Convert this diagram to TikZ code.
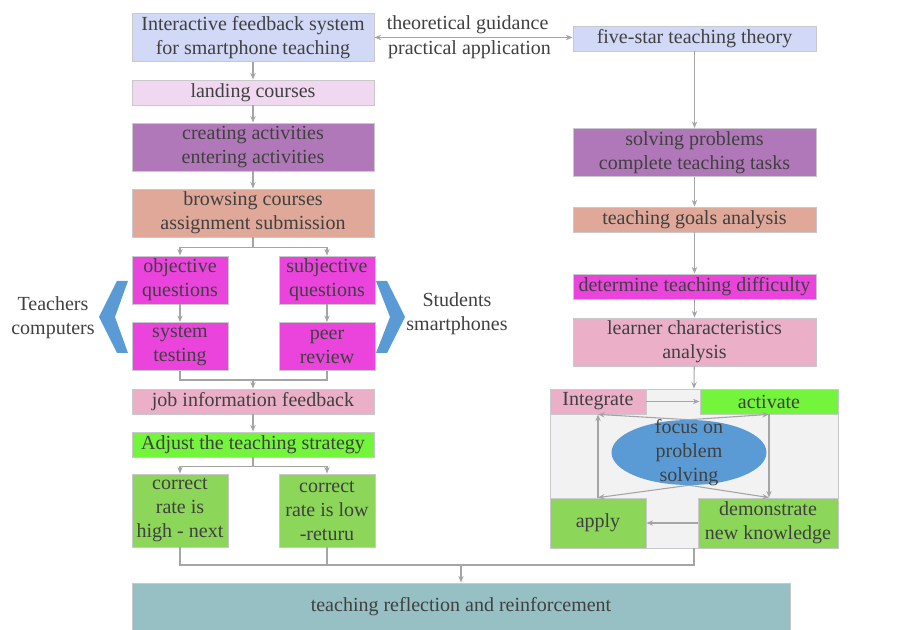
\documentclass[tikz,border=0pt]{standalone}
\usepackage{fontspec}
\setmainfont{Liberation Serif}
\usepackage{tikz}
\usetikzlibrary{arrows.meta}
\usetikzlibrary{shapes.geometric}

\definecolor{txtgray}{RGB}{64,64,64}
\definecolor{boxline}{RGB}{200,200,205}
\definecolor{linegray}{RGB}{165,165,165}
\definecolor{lavblue}{RGB}{209,217,247}
\definecolor{lightpink}{RGB}{240,216,240}
\definecolor{violet}{RGB}{176,120,184}
\definecolor{salmon}{RGB}{224,168,152}
\definecolor{magent}{RGB}{234,68,220}
\definecolor{rosepink}{RGB}{235,176,200}
\definecolor{brightgreen}{RGB}{115,245,60}
\definecolor{leafgreen}{RGB}{140,214,90}
\definecolor{teal}{RGB}{150,192,196}
\definecolor{chevblue}{RGB}{91,155,213}
\definecolor{panelgray}{RGB}{242,242,242}

\begin{document}
\begin{tikzpicture}[x=0.75pt,y=0.75pt,yscale=-1,
  box/.style={draw=boxline,line width=0.6pt,text=txtgray,align=center,inner sep=1pt,font=\fontsize{15}{18}\selectfont},
  wide/.style={box,minimum width=181.5pt},
  narrow/.style={box,minimum width=72pt},
  onerow/.style={minimum height=18.75pt},
  tworow/.style={minimum height=36pt},
  plain/.style={text=txtgray,align=center,inner sep=1pt,font=\fontsize{15}{18}\selectfont},
  link/.style={draw=linegray,line width=0.8pt},
  arr/.style={link,-{Stealth[length=5pt,width=4pt]}}]
%set picture to the size of the reference
\useasboundingbox (0,0) rectangle (901,630);

% left column
\node [wide,tworow,fill=lavblue] (sys) at (253,37.5) {Interactive feedback system\\for smartphone teaching};
\node [wide,onerow,fill=lightpink] (land) at (253,92.5) {landing courses};
\node [wide,tworow,fill=violet] (creat) at (253,147) {creating activities\\entering activities};
\node [wide,tworow,fill=salmon] (brows) at (253,213) {browsing courses\\assignment submission};
\node [narrow,tworow,fill=magent] (obj) at (180,280) {objective\\questions};
\node [narrow,tworow,fill=magent] (subj) at (327,280) {subjective\\questions};
\node [narrow,tworow,fill=magent] (systest) at (180,346.5) {system\\testing};
\node [narrow,tworow,fill=magent] (peer) at (327,346.5) {peer\\review};
\node [wide,onerow,fill=rosepink] (job) at (253,401.5) {job information feedback};
\node [wide,onerow,fill=brightgreen] (adjust) at (253,444.5) {Adjust the teaching strategy};
\node [narrow,minimum height=54.75pt,fill=leafgreen] (high) at (180,510.5) {correct\\rate is\\high - next};
\node [narrow,minimum height=54.75pt,fill=leafgreen] (low) at (327,510.5) {correct\\rate is low\\-returu};

\fill [chevblue] (117,281) -- (128,281) -- (115,317) -- (128,353) -- (117,353) -- (99,317) -- cycle;
\fill [chevblue] (376,281) -- (387,281) -- (405,317) -- (387,353) -- (376,353) -- (390,317) -- cycle;
\node [plain] (teach) at (53,317.5) {Teachers\\computers};
\node [plain] (stud) at (457,313.5) {Students\\smartphones};

% right column
\node [wide,onerow,minimum width=182.25pt,fill=lavblue] (star) at (694.5,38.5) {five-star teaching theory};
\node [wide,tworow,minimum width=182.25pt,fill=violet] (solve) at (694.5,152.5) {solving problems\\complete teaching tasks};
\node [wide,onerow,minimum width=182.25pt,fill=salmon] (goals) at (694.5,219.5) {teaching goals analysis};
\node [wide,onerow,minimum width=182.25pt,fill=magent] (diff) at (694.5,286.5) {determine teaching difficulty};
\node [wide,tworow,minimum width=182.25pt,fill=rosepink] (learner) at (694.5,342) {learner characteristics\\analysis};

\node [draw=boxline,fill=panelgray,minimum width=216pt,minimum height=119.25pt] (panel) at (694,468.5) {};
\node [narrow,onerow,fill=rosepink] (integ) at (598,401.5) {Integrate};
\node [box,onerow,minimum width=103.5pt,fill=brightgreen] (activ) at (769,401.5) {activate};
\node [narrow,minimum height=37.5pt,fill=leafgreen] (apply) at (598,523) {apply};
\node [box,minimum width=105pt,minimum height=37.5pt,fill=leafgreen] (demo) at (768,523) {demonstrate\\new knowledge};
\node [ellipse,fill=chevblue,minimum width=116.25pt,minimum height=48.75pt] (focus) at (689,452.5) {};
\node [plain] (focustxt) at (focus) {focus on\\problem\\solving};

\node [box,minimum width=493.5pt,minimum height=35.25pt,fill=teal] (refl) at (461,606.5) {teaching reflection and reinforcement};

% connectors
\draw [link,{Stealth[length=5pt,width=4pt]}-{Stealth[length=5pt,width=4pt]}] (sys.east) -- node[plain,above=1pt,pos=0.47] {theoretical guidance} node[plain,below=1pt,pos=0.48] {practical application} (sys.east -| star.west);
\draw [arr] (sys) -- (land);
\draw [arr] (land) -- (creat);
\draw [arr] (creat) -- (brows);
\draw [arr] (brows.south) -- ++(0,10) -| (obj.north);
\draw [arr] (brows.south) -- ++(0,10) -| (subj.north);
\draw [arr] (obj) -- (systest);
\draw [arr] (subj) -- (peer);
\coordinate (j1) at (253,380);
\draw [link] (systest.south) |- (j1) -| (peer.south);
\draw [arr] (j1) -- (job.north);
\draw [arr] (job) -- (adjust);
\draw [arr] (adjust.south) -- ++(0,9) -| (high.north);
\draw [arr] (adjust.south) -- ++(0,9) -| (low.north);
\coordinate (r1) at (461,565);
\draw [link] (high.south) |- (r1);
\draw [link] (low.south) |- (r1);
\draw [link] (panel.south) |- (r1);
\draw [arr] (r1) -- (refl.north);

\draw [arr] (star) -- (solve);
\draw [arr] (solve) -- (goals);
\draw [arr] (goals) -- (diff);
\draw [arr] (diff) -- (learner);
\draw [arr] (learner) -- (panel.north);
\draw [arr] (integ) -- (activ);
\draw [arr] (demo) -- (apply);
\draw [arr] (apply.north) -- (integ.south);
\draw [arr] (activ.south) -- (activ.south |- demo.north);
\draw [arr] (focus.north) -- (integ.south);
\draw [arr] (focus.north) -- (activ.south);
\draw [arr] (focus.south) -- (apply.north);
\draw [arr] (focus.south) -- (activ.south |- demo.north);

\end{tikzpicture}
\end{document}
